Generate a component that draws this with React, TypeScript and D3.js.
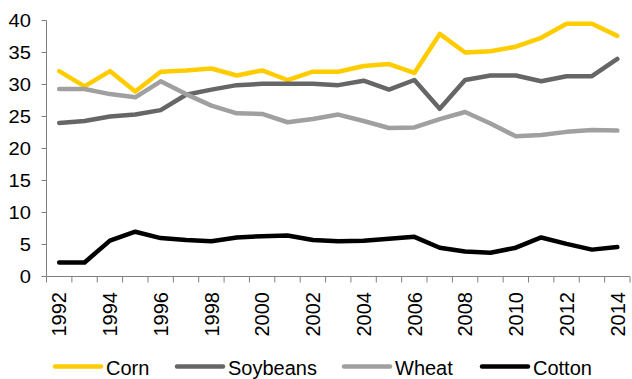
import React from "react";
import * as d3 from "d3";

const years = d3.range(1992, 2015).map(String);
const tickLabels = ["1992","1994","1996","1998","2000","2002","2004","2006","2008","2010","2012","2014"];
const yTicks = [0, 5, 10, 15, 20, 25, 30, 35, 40];

const corn = [32.1, 29.7, 32.1, 28.9, 32.0, 32.2, 32.5, 31.4, 32.2, 30.7, 32.0, 32.0, 32.9, 33.2, 31.8, 37.9, 35.0, 35.2, 35.9, 37.3, 39.5, 39.5, 37.6];
const soybeans = [24.0, 24.3, 25.0, 25.3, 26.0, 28.4, 29.2, 29.9, 30.1, 30.1, 30.1, 29.9, 30.6, 29.2, 30.7, 26.2, 30.7, 31.4, 31.4, 30.5, 31.3, 31.3, 34.0];
const wheat = [29.3, 29.3, 28.5, 28.0, 30.5, 28.5, 26.7, 25.5, 25.4, 24.1, 24.6, 25.3, 24.3, 23.2, 23.3, 24.6, 25.7, 23.9, 21.9, 22.1, 22.6, 22.9, 22.8];
const cotton = [2.2, 2.2, 5.6, 7.0, 6.0, 5.7, 5.5, 6.1, 6.3, 6.4, 5.7, 5.5, 5.6, 5.9, 6.2, 4.5, 3.9, 3.7, 4.5, 6.1, 5.1, 4.2, 4.6];

const seriesNames = ["Corn", "Soybeans", "Wheat", "Cotton"];
const seriesData = [corn, soybeans, wheat, cotton];
const colors = ["#FFCC00", "#666666", "#A0A0A0", "#000000"];

export default function App() {
  const W = 632, H = 379;
  const left = 46.5, right = 630, top = 20.5, bottom = 276.5;
  const x = d3.scaleBand().domain(years).range([left, right]).paddingInner(0).paddingOuter(0);
  const y = d3.scaleLinear().domain([0, 40]).range([bottom, top]);
  const line = d3.line<number>().x((_, i) => x(years[i])! + x.bandwidth() / 2).y((d) => y(d));
  const font = "'Liberation Sans', Arial, sans-serif";
  const axisColor = "#808080";
  const legendX = [55, 177, 344, 482];
  return (
    <svg width={W} height={H} style={{ position: "absolute", left: 0, top: 0 }} fontFamily={font}>
      {/* y axis */}
      <line x1={left} x2={left} y1={top} y2={bottom} stroke={axisColor} strokeWidth={1} />
      {yTicks.map((t) => (
        <g key={t}>
          <line x1={left - 5} x2={left} y1={y(t)} y2={y(t)} stroke={axisColor} />
          <text transform={`translate(31,${y(t)}) scale(1.12,1)`} dy="0.35em" textAnchor="end" fontSize={18} fill="#000">{t}</text>
        </g>
      ))}
      {/* x axis */}
      <line x1={left} x2={right} y1={bottom} y2={bottom} stroke={axisColor} />
      {years.concat(["end"]).map((yr, i) => {
        const xx = i < years.length ? x(yr)! : right;
        return <line key={"t" + i} x1={xx} x2={xx} y1={bottom} y2={bottom + 6} stroke={axisColor} />;
      })}
      {tickLabels.map((yr) => {
        const cx = x(yr)! + x.bandwidth() / 2;
        return (
          <text key={yr} transform={`translate(${cx},${292}) rotate(-90)`} dy="0.36em" textAnchor="end" fontSize={20} fill="#000">{yr}</text>
        );
      })}
      {/* lines */}
      {seriesData.map((d, i) => (
        <path key={seriesNames[i]} d={line(d)!} fill="none" stroke={colors[i]} strokeWidth={4.5} strokeLinejoin="round" strokeLinecap="round" />
      ))}
      {/* legend */}
      {seriesNames.map((n, i) => (
        <g key={n}>
          <line x1={legendX[i]} x2={legendX[i] + 46} y1={366.5} y2={366.5} stroke={colors[i]} strokeWidth={4.5} strokeLinecap="round" />
          <text x={legendX[i] + 51} y={375} fontSize={20} fill="#000">{n}</text>
        </g>
      ))}
    </svg>
  );
}
